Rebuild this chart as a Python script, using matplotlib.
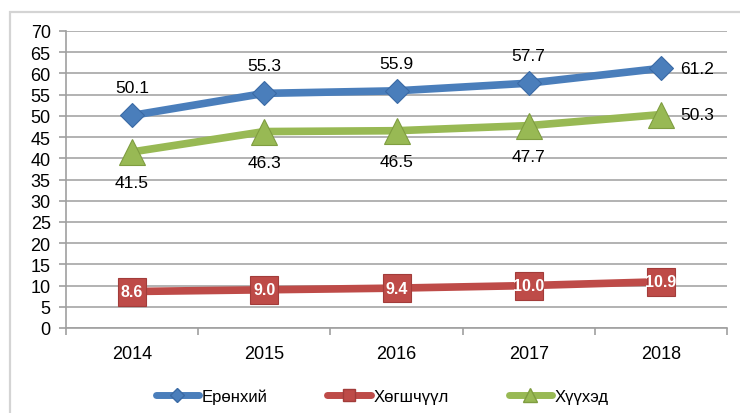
import matplotlib
matplotlib.use("Agg")
import matplotlib.pyplot as plt
from matplotlib.lines import Line2D
from matplotlib.patches import Rectangle

years = ["2014", "2015", "2016", "2017", "2018"]
s_total = [50.1, 55.3, 55.9, 57.7, 61.2]
s_elder = [8.6, 9.0, 9.4, 10.0, 10.9]
s_child = [41.5, 46.3, 46.5, 47.7, 50.3]
names = ["Ерөнхий", "Хөгшчүүл", "Хүүхэд"]

c_blue = "#4A7EBB"
c_red = "#BE4B48"
c_green = "#98B954"

plt.rcParams["font.family"] = ["Liberation Sans", "DejaVu Sans"]

fig = plt.figure(figsize=(7.4, 4.14), dpi=100)
# outer chart frame
fig.add_artist(Rectangle((10/740, -0.1), 1.0, 1 - 13/414 + 0.1, transform=fig.transFigure,
                         fill=False, edgecolor="#d4d4d4", lw=1.6))

ax = fig.add_axes([66/740, 1 - 329/414, (727 - 66)/740, (329 - 32)/414])
x = [i + 0.5 for i in range(len(years))]

ax.set_xlim(0, len(years))
ax.set_ylim(0, 70)
ax.set_yticks(range(0, 71, 5))
ax.set_xticks(range(0, len(years) + 1))
ax.set_xticklabels([])
ax.set_xticks(x, minor=True)
ax.set_xticklabels(years, minor=True)
ax.tick_params(axis="x", which="minor", length=0, pad=12, labelsize=13)
ax.tick_params(axis="x", which="major", length=5, color="#a0a0a0", width=1.2)
ax.tick_params(axis="y", length=5, color="#a0a0a0", width=1.2, labelsize=13, pad=6)
ax.grid(axis="y", color="#a6a6a6", lw=1.2)
ax.set_axisbelow(True)
for sp in ["top", "right"]:
    ax.spines[sp].set_visible(False)
for sp in ["left", "bottom"]:
    ax.spines[sp].set_color("#a0a0a0")
    ax.spines[sp].set_linewidth(1.2)

ax.plot(x, s_total, color=c_blue, lw=5.5, marker="D", ms=12, mfc=c_blue,
        mec="#3a6aa5", mew=0.8, zorder=3, solid_capstyle="round")
ax.plot(x, s_elder, color=c_red, lw=5.5, marker="s", ms=19.5, mfc=c_red,
        mec="#a23c3a", mew=0.8, zorder=3, solid_capstyle="round")
ax.plot(x, s_child, color=c_green, lw=5.5, marker="^", ms=19, mfc=c_green,
        mec="#7f9d40", mew=0.8, zorder=3, solid_capstyle="round")

n = len(years)
for i, (xi, v) in enumerate(zip(x, s_total)):
    if i == n - 1:
        ax.annotate(f"{v:.1f}", (xi, v), xytext=(14, 0), textcoords="offset points",
                    ha="left", va="center", fontsize=12.5)
    else:
        ax.annotate(f"{v:.1f}", (xi, v), xytext=(0, 20), textcoords="offset points",
                    ha="center", va="center", fontsize=12.5)
for i, (xi, v) in enumerate(zip(x, s_child)):
    if i == n - 1:
        ax.annotate(f"{v:.1f}", (xi, v), xytext=(14, 0), textcoords="offset points",
                    ha="left", va="center", fontsize=12.5)
    else:
        ax.annotate(f"{v:.1f}", (xi, v), xytext=(0, -22), textcoords="offset points",
                    ha="center", va="center", fontsize=12.5)
for xi, v in zip(x, s_elder):
    ax.annotate(f"{v:.1f}", (xi, v), xytext=(0, 0), textcoords="offset points",
                ha="center", va="center", fontsize=11.5, color="white",
                fontweight="bold", zorder=5)

handles = [
    Line2D([], [], color=c_blue, lw=5, marker="D", ms=7, mfc=c_blue, mec="#3a6aa5", solid_capstyle="round"),
    Line2D([], [], color=c_red, lw=5, marker="s", ms=9, mfc=c_red, mec="#a23c3a", solid_capstyle="round"),
    Line2D([], [], color=c_green, lw=5, marker="^", ms=10, mfc=c_green, mec="#7f9d40", solid_capstyle="round"),
]
fig.legend(handles, names, loc="center", bbox_to_anchor=(382/740, 1 - 397/414), ncol=3,
           frameon=False, fontsize=12, handlelength=2.6, handletextpad=0.15,
           columnspacing=3.6)

fig.savefig("out.png", dpi=100)
